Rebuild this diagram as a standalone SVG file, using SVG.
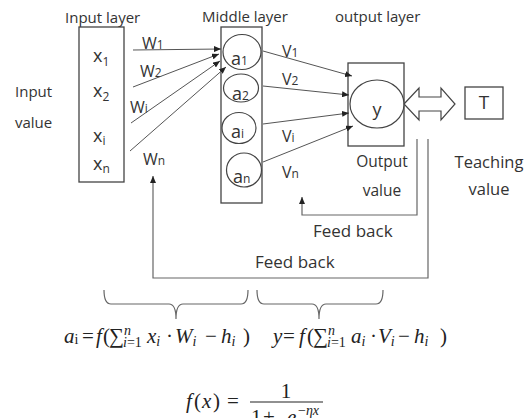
<svg xmlns="http://www.w3.org/2000/svg" width="526" height="418" viewBox="0 0 526 418">
<defs>
<style>
.t{font-family:"Open Sans","Noto Sans","DejaVu Sans",sans-serif;fill:#333;}
.lbl{font-size:15px;}
.var{font-size:18px;}
.sub{font-size:12px;}
.box{fill:#fff;stroke:#444;stroke-width:1.3;}
.node{fill:#fff;stroke:#444;stroke-width:1.2;}
.ln{fill:none;stroke:#555;stroke-width:1;}
.fb{fill:none;stroke:#666;stroke-width:1.2;}
.m{font-family:"Liberation Serif","DejaVu Serif",serif;fill:#222;font-size:21px;}
.mi{font-style:italic;}
.ms{font-size:14px;}
</style>
<marker id="ah" markerWidth="7" markerHeight="6" refX="7" refY="3" orient="auto" markerUnits="userSpaceOnUse">
<path d="M0,0 L7,3 L0,6 z" fill="#222"/>
</marker>
</defs>
<rect width="526" height="418" fill="#fff"/>

<g id="titles" class="t lbl">
<text x="65" y="23">Input layer</text>
<text x="202" y="22">Middle layer</text>
<text x="335" y="22">output layer</text>
</g>

<g id="input-value" class="t lbl">
<text x="15" y="97">Input</text>
<text x="15" y="128">value</text>
</g>

<g id="input-layer">
<rect class="box" x="79" y="27" width="45" height="155"/>
<g class="t">
<text x="93" y="62" class="var">x<tspan class="sub" dy="4">1</tspan></text>
<text x="93" y="97" class="var">x<tspan class="sub" dy="4">2</tspan></text>
<text x="93" y="142" class="var">x<tspan class="sub" dy="3">i</tspan></text>
<text x="93" y="170" class="var">x<tspan class="sub" dy="3">n</tspan></text>
</g>
</g>

<g id="middle-layer">
<rect class="box" x="221" y="27" width="41" height="176"/>
<ellipse class="node" cx="242" cy="52" rx="19" ry="17.5"/>
<ellipse class="node" cx="241" cy="88" rx="17.5" ry="14"/>
<ellipse class="node" cx="239" cy="128" rx="17" ry="15.5"/>
<ellipse class="node" cx="244" cy="170" rx="17.5" ry="17"/>
<g class="t">
<text x="231" y="65" class="var">a<tspan class="sub">1</tspan></text>
<text x="232" y="100" class="var">a<tspan class="sub">2</tspan></text>
<text x="231" y="138" class="var">a<tspan class="sub">i</tspan></text>
<text x="233" y="183" class="var">a<tspan class="sub">n</tspan></text>
</g>
</g>

<g id="output-layer">
<rect class="box" x="348" y="63" width="56" height="83"/>
<ellipse class="node" cx="377" cy="104" rx="27" ry="24"/>
<text x="377" y="116" class="t var" text-anchor="middle">y</text>
</g>

<g id="teaching">
<rect class="box" x="465" y="87" width="38" height="32"/>
<text x="484" y="109" class="t" font-size="19" text-anchor="middle">T</text>
</g>

<g id="weights" class="t">
<text x="142" y="49" font-size="16">W<tspan class="sub">1</tspan></text>
<text x="140" y="77" font-size="16">W<tspan class="sub">2</tspan></text>
<text x="130" y="113" font-size="16">W<tspan class="sub">i</tspan></text>
<text x="143" y="165" font-size="16">W<tspan class="sub">n</tspan></text>
<text x="282" y="57" font-size="16">V<tspan class="sub">1</tspan></text>
<text x="282" y="85" font-size="16">V<tspan class="sub">2</tspan></text>
<text x="282" y="142" font-size="16">V<tspan class="sub">i</tspan></text>
<text x="282" y="178" font-size="16">V<tspan class="sub">n</tspan></text>
</g>

<g id="output-value" class="t lbl">
<text x="382" y="167" text-anchor="middle" font-size="15.5">Output</text>
<text x="382" y="196" text-anchor="middle" font-size="15.5">value</text>
</g>
<g id="teaching-value" class="t">
<text x="489" y="168" text-anchor="middle" font-size="16.5">Teaching</text>
<text x="489" y="195" text-anchor="middle" font-size="16.5">value</text>
</g>

<g id="feedback-labels" class="t" font-size="17">
<text x="313" y="237">Feed back</text>
<text x="255" y="268">Feed back</text>
</g>

<g id="connectors">
<line class="ln" x1="133" y1="50" x2="221" y2="49" marker-end="url(#ah)"/>
<line class="ln" x1="133" y1="87" x2="219" y2="54" marker-end="url(#ah)"/>
<line class="ln" x1="131" y1="123" x2="220" y2="61" marker-end="url(#ah)"/>
<line class="ln" x1="130" y1="151" x2="226" y2="67" marker-end="url(#ah)"/>
<line class="ln" x1="263" y1="51" x2="352" y2="76" marker-end="url(#ah)"/>
<line class="ln" x1="263" y1="86" x2="349" y2="95" marker-end="url(#ah)"/>
<line class="ln" x1="263" y1="124" x2="349" y2="113" marker-end="url(#ah)"/>
<line class="ln" x1="263" y1="162" x2="353" y2="126" marker-end="url(#ah)"/>
<polyline class="fb" points="417,139 417,215 302,215 302,197" marker-end="url(#ah)"/>
<polyline class="fb" points="428,139 428,278 153,278 153,176" marker-end="url(#ah)"/>
<polygon points="404,104 419,88 419,97 441,97 441,88 455,104 441,120 441,111 419,111 419,120" fill="#fff" stroke="#444" stroke-width="1.2"/>
</g>

<g id="braces" fill="none" stroke="#666" stroke-width="1.2">
<path d="M104,290 Q104,304 111,304 H169 Q176,304 176,319 Q176,304 183,304 H241 Q248,304 248,290"/>
<path d="M257,290 Q257,304 264,304 H312 Q319,304 319,319 Q319,304 326,304 H376 Q383,304 383,290"/>
</g>

<g id="formula1" class="m">
<text y="343"><tspan x="64" class="mi">a</tspan><tspan class="ms" dy="1">i</tspan><tspan x="82" dy="-1">=</tspan><tspan x="96" class="mi">f</tspan><tspan x="103">(</tspan><tspan x="109">∑</tspan><tspan x="124" dy="-8" class="ms mi">n</tspan><tspan x="123" dy="12" class="ms"><tspan class="mi">i</tspan>=1</tspan><tspan x="147" dy="-4" class="mi">x</tspan><tspan class="ms mi" dy="3">i</tspan><tspan x="166" dy="-3">·</tspan><tspan x="175" class="mi">W</tspan><tspan class="ms mi" dy="3">i</tspan><tspan x="205" dy="-3">−</tspan><tspan x="221" class="mi">h</tspan><tspan class="ms mi" dy="3">i</tspan><tspan x="243" dy="-3">)</tspan></text>
</g>
<g id="formula2" class="m">
<text y="343"><tspan x="273" class="mi">y</tspan><tspan x="283">=</tspan><tspan x="299" class="mi">f</tspan><tspan x="307">(</tspan><tspan x="313">∑</tspan><tspan x="328" dy="-8" class="ms mi">n</tspan><tspan x="327" dy="12" class="ms"><tspan class="mi">i</tspan>=1</tspan><tspan x="351" dy="-4" class="mi">a</tspan><tspan class="ms mi" dy="3">i</tspan><tspan x="370" dy="-3">·</tspan><tspan x="378" class="mi">V</tspan><tspan class="ms mi" dy="3">i</tspan><tspan x="398" dy="-3">−</tspan><tspan x="414" class="mi">h</tspan><tspan class="ms mi" dy="3">i</tspan><tspan x="440" dy="-3">)</tspan></text>
</g>
<g id="formula3" class="m">
<text y="408"><tspan x="186" class="mi">f</tspan><tspan x="194">(</tspan><tspan x="202" class="mi">x</tspan><tspan x="213">)</tspan><tspan x="227">=</tspan></text>
<line x1="250" y1="402" x2="323" y2="402" stroke="#222" stroke-width="1.1"/>
<text x="286" y="398" text-anchor="middle">1</text>
<text y="424"><tspan x="251">1</tspan><tspan x="263">+</tspan><tspan x="287" class="mi">e</tspan><tspan x="298" dy="-9" font-size="14">−</tspan><tspan class="mi" font-size="14">ηx</tspan></text>
</g>
</svg>
